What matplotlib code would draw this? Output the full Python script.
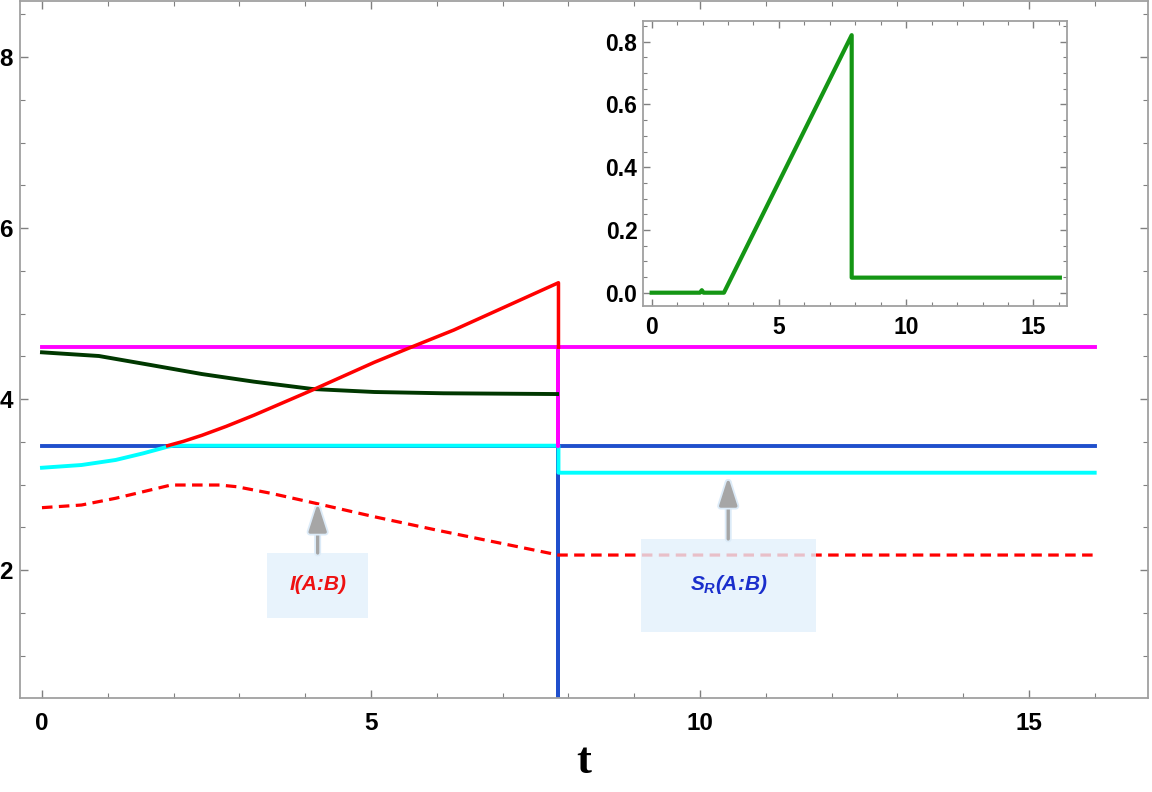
import matplotlib
matplotlib.use("Agg")
import matplotlib.pyplot as plt
from matplotlib.patches import Rectangle
from matplotlib.ticker import MultipleLocator, FixedLocator
import matplotlib.patheffects as pe

plt.rcParams['font.family'] = ['Liberation Sans', 'DejaVu Sans']
plt.rcParams['mathtext.fontset'] = 'custom'
plt.rcParams['mathtext.it'] = 'Liberation Sans:italic:bold'
plt.rcParams['mathtext.rm'] = 'Liberation Sans:bold'
plt.rcParams['mathtext.bf'] = 'Liberation Sans:bold'

# ---------------- data ----------------
t_mag = [0, 7.85, 7.85, 7.85, 16]
y_mag = [0.4606, 0.4606, 0.3454, 0.4606, 0.4606]

t_blue = [0, 7.85, 7.85, 7.85, 16]
y_blue = [0.3454, 0.3454, 0.0, 0.3454, 0.3454]

t_cyan = [0, 0.60, 1.12, 1.54, 1.91, 2.0, 7.85, 7.85, 16]
y_cyan = [0.3196, 0.3228, 0.3287, 0.3365, 0.3442, 0.3454, 0.3454, 0.3138, 0.3138]

t_red = [1.91, 2.15, 2.43, 2.8, 3.22, 4.11, 5.05, 5.63, 6.26, 7.85, 7.85]
y_red = [0.3454, 0.3505, 0.3575, 0.368, 0.381, 0.4105, 0.4429, 0.4612, 0.4807, 0.536, 0.4606]

t_dkg = [0, 0.865, 1.65, 2.43, 3.22, 4.11, 5.05, 6.10, 7.83]
y_dkg = [0.4546, 0.4503, 0.4398, 0.4292, 0.4203, 0.4117, 0.4082, 0.4067, 0.4058]

t_dash = [0, 0.60, 1.12, 1.54, 1.96, 2.70, 2.96, 3.48, 4.16, 5.05, 5.99, 7.85, 16]
y_dash = [0.2729, 0.276, 0.2839, 0.2916, 0.2994, 0.2994, 0.2974, 0.2897, 0.278,
          0.2623, 0.2468, 0.2175, 0.2175]

t_ins = [0, 1.9, 1.97, 2.04, 2.84, 7.86, 7.86, 16.04]
y_ins = [0, 0, 0.008, 0, 0, 0.821, 0.048, 0.048]

main_xticks = [0, 5, 10, 15]
main_yticks = [0.2, 0.4, 0.6, 0.8]
main_ylabels = ["2", "4", "6", "8"]   # only these digits are visible at the cropped edge
ins_xticks = [0, 5, 10, 15]
ins_yticks = [0.0, 0.2, 0.4, 0.6, 0.8]
ins_ylabels = ["0.0", "0.2", "0.4", "0.6", "0.8"]

label_I = "I(A:B)"
label_S = r"$S_R$(A:B)"
xlabel = "t"

# ---------------- figure ----------------
W, H = 1152, 792
fig = plt.figure(figsize=(W / 100, H / 100), dpi=100)

def px_axes(l, t, r, b):
    return fig.add_axes([l / W, 1 - b / H, (r - l) / W, (b - t) / H])

ax = px_axes(20, 1, 1148, 698)
ax.set_xlim(-0.334, 16.81)
ax.set_ylim(0.0503, 0.8655)

frame_col = '#a0a0a0'
for sp in ax.spines.values():
    sp.set_color(frame_col)
    sp.set_linewidth(1.3)

lw = 2.8
ax.plot(t_blue, y_blue, color='#1f4fcc', lw=lw, zorder=2)
ax.plot(t_cyan, y_cyan, color='#00ffff', lw=lw, zorder=3)
ax.plot(t_mag, y_mag, color='#ff00ff', lw=lw, zorder=3)
ax.plot(t_dkg, y_dkg, color='#003800', lw=lw, zorder=3)
ax.plot(t_red, y_red, color='#ff0000', lw=lw * 0.9, zorder=4)
ax.plot(t_dash, y_dash, color='#ff0000', lw=2.3, dashes=(3.3, 2.0), zorder=3)

ax.xaxis.set_major_locator(FixedLocator(main_xticks))
ax.xaxis.set_minor_locator(MultipleLocator(1))
ax.yaxis.set_major_locator(FixedLocator(main_yticks))
ax.yaxis.set_minor_locator(MultipleLocator(0.05))
ax.set_yticklabels(main_ylabels)
ax.set_xticklabels([str(v) for v in main_xticks])
ax.tick_params(which='both', direction='in', top=True, right=True, color='#808080')
ax.tick_params(which='major', length=6, width=1.0)
ax.tick_params(which='minor', length=3.5, width=0.8)
ax.tick_params(axis='x', which='major', pad=10, labelsize=17.5)
ax.tick_params(axis='y', which='major', pad=5, labelsize=17.5)
for lab in ax.get_xticklabels() + ax.get_yticklabels():
    lab.set_fontweight('bold')

# annotation boxes
box_col = '#e3f0fc'
arrow_col = '#a6a6a6'

def note(x0, x1, y0, y1, xt, yt, tip_y, text, tcol):
    ax.add_patch(Rectangle((x0, y0), x1 - x0, y1 - y0, facecolor=box_col,
                           edgecolor='none', alpha=0.8, zorder=5))
    ax.annotate('', xy=(xt, tip_y), xytext=(xt, y1),
                arrowprops=dict(arrowstyle='-|>,head_length=1.0,head_width=0.32',
                                mutation_scale=17, color=arrow_col, lw=2.4,
                                shrinkA=0, shrinkB=0,
                                path_effects=[pe.Stroke(linewidth=5, foreground='#dcebf8'),
                                              pe.Normal()]),
                zorder=6)
    ax.text(xt, yt, text, color=tcol, fontsize=15, fontweight='bold',
            style='italic', ha='center', va='center', zorder=7)

note(3.42, 4.95, 0.1439, 0.2199, 4.19, 0.1825, 0.2784, label_I, '#ee1111')
note(9.10, 11.76, 0.1275, 0.2363, 10.43, 0.1825, 0.3088, label_S, '#1a2ecc')

fig.text(584 / W, 1 - 762 / H, xlabel, fontsize=32, fontweight='bold',
         family=['Liberation Serif', 'DejaVu Serif'], ha='center', va='center')

# ---------------- inset ----------------
ins = px_axes(643, 20.7, 1067, 306)
ins.set_xlim(-0.34, 16.32)
ins.set_ylim(-0.0424, 0.867)
for sp in ins.spines.values():
    sp.set_color(frame_col)
    sp.set_linewidth(1.3)
ins.plot(t_ins, y_ins, color='#149614', lw=3.0)
ins.xaxis.set_major_locator(FixedLocator(ins_xticks))
ins.xaxis.set_minor_locator(MultipleLocator(1))
ins.yaxis.set_major_locator(FixedLocator(ins_yticks))
ins.yaxis.set_minor_locator(MultipleLocator(0.05))
ins.set_yticklabels(ins_ylabels)
ins.set_xticklabels([str(v) for v in ins_xticks])
ins.tick_params(which='both', direction='in', top=True, right=True, color='#808080')
ins.tick_params(which='major', length=5, width=1.0)
ins.tick_params(which='minor', length=3, width=0.8)
ins.tick_params(axis='x', which='major', pad=7, labelsize=16.5)
ins.tick_params(axis='y', which='major', pad=4, labelsize=16.5)
for lab in ins.get_xticklabels() + ins.get_yticklabels():
    lab.set_fontweight('bold')

fig.savefig('out.png', dpi=100)
